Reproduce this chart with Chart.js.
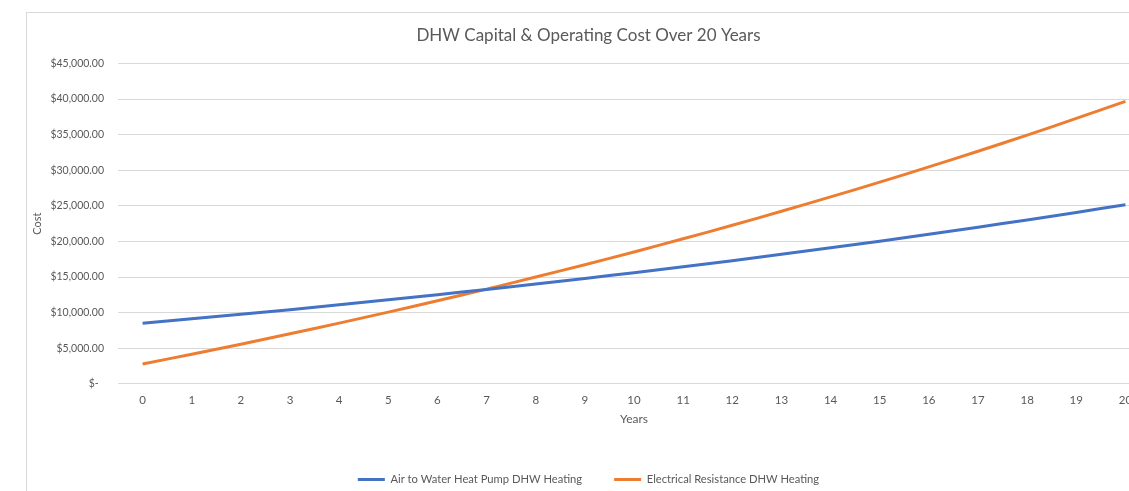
<!DOCTYPE html>
<html>
<head>
<meta charset="utf-8">
<script src="https://cdn.jsdelivr.net/npm/chart.js@4"></script>
<style>
    html, body { margin: 0; padding: 0; background: #fff; overflow: hidden; }
    #frame {
        position: absolute;
        left: 26px;
        top: 12px;
        width: 1128px;
        height: 490px;
        border-top: 1px solid #d9d9d9;
        border-left: 1px solid #d9d9d9;
    }
    #costChart { display: block; }
</style>
</head>
<body>
<div id="frame">
    <canvas id="costChart" width="1128" height="482"></canvas>
</div>
<script>
// --- Data ---
const years = [0, 1, 2, 3, 4, 5, 6, 7, 8, 9, 10, 11, 12, 13, 14, 15, 16, 17, 18, 19, 20];
const heatPumpCost = [8500, 9120, 9759, 10416, 11094, 11792, 12510, 13251, 14014, 14799, 15605,
    16442, 17298, 18184, 19096, 20032, 20999, 21991, 23014, 24074, 25159];
const resistanceCost = [2780, 4153, 5567, 7023, 8525, 10069, 11661, 13301, 14990, 16730, 18515,
    20368, 22263, 24226, 26245, 28318, 30460, 32657, 34922, 37270, 39673];
const costTicks = [0, 5000, 10000, 15000, 20000, 25000, 30000, 35000, 40000, 45000];

const textColor = '#595959';
const gridColor = '#d9d9d9';

Chart.defaults.font.family = 'Lato, "Open Sans", sans-serif';
Chart.defaults.color = textColor;

function formatCost(v) {
    if (v === 0) return '$-  ';
    return '$' + v.toLocaleString('en-US', { minimumFractionDigits: 2, maximumFractionDigits: 2 });
}

const ctx = document.getElementById('costChart').getContext('2d');
new Chart(ctx, {
    type: 'line',
    data: {
        labels: years.map(String),
        datasets: [
            {
                label: 'Air to Water Heat Pump DHW Heating',
                data: heatPumpCost,
                borderColor: '#4472c4',
                backgroundColor: '#4472c4',
                borderWidth: 3,
                pointRadius: 0,
                tension: 0.3,
                fill: false
            },
            {
                label: 'Electrical Resistance DHW Heating',
                data: resistanceCost,
                borderColor: '#ed7d31',
                backgroundColor: '#ed7d31',
                borderWidth: 3,
                pointRadius: 0,
                tension: 0.3,
                fill: false
            }
        ]
    },
    options: {
        responsive: false,
        animation: false,
        devicePixelRatio: 1,
        layout: { padding: { left: 0, right: 5, top: 0, bottom: 0 } },
        plugins: {
            title: {
                display: true,
                text: 'DHW Capital & Operating Cost Over 20 Years',
                color: textColor,
                font: { size: 17, weight: 'normal' },
                padding: { top: 12, bottom: 18 }
            },
            legend: {
                position: 'bottom',
                labels: {
                    boxWidth: 27,
                    boxHeight: 3,
                    padding: 32,
                    color: textColor,
                    font: { size: 11.2 },
                    generateLabels: (chart) => {
                        const items = Chart.defaults.plugins.legend.labels.generateLabels(chart);
                        items.forEach(item => { item.lineWidth = 0; });
                        return items;
                    }
                }
            },
            tooltip: { enabled: false }
        },
        scales: {
            x: {
                offset: true,
                grid: { display: false },
                border: { display: false },
                ticks: { color: textColor, padding: 2, font: { size: 11.5 }, maxRotation: 0 },
                title: {
                    display: true,
                    text: 'Years',
                    color: textColor,
                    font: { size: 12 },
                    padding: { top: 0, bottom: 15 }
                },
                afterFit: (scale) => { scale.height = 58; }
            },
            y: {
                min: 0,
                max: 45000,
                afterBuildTicks: (scale) => { scale.ticks = costTicks.map(v => ({ value: v })); },
                grid: { color: gridColor, drawTicks: false },
                border: { display: false },
                ticks: { color: textColor, padding: 14, font: { size: 10.5 }, callback: (v) => formatCost(v) },
                title: {
                    display: true,
                    text: 'Cost',
                    color: textColor,
                    font: { size: 11 },
                    padding: { top: 4, bottom: 0 }
                },
                afterFit: (scale) => { scale.width = 91; }
            }
        }
    }
});
</script>
</body>
</html>
